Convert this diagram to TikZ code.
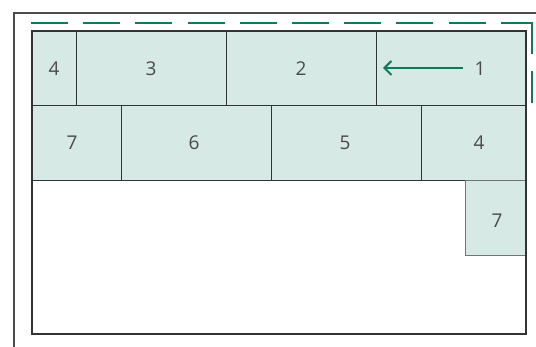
\documentclass[tikz,border=0pt]{standalone}
\usepackage{fontspec}
\setmainfont{Open Sans}
\usetikzlibrary{arrows.meta}
\definecolor{cellfill}{HTML}{D6E9E4}
\definecolor{dgreen}{HTML}{0E7A5A}
\definecolor{txt}{HTML}{4A4A4A}
\begin{document}
\begin{tikzpicture}[x=1pt,y=-1pt,
  cell/.style={draw=black!80,line width=0.9pt,fill=cellfill},
  lbl/.style={font=\fontsize{19}{19}\selectfont,text=txt,inner sep=0pt},
  frameline/.style={draw=black!70,line width=2pt},
  boxline/.style={draw=black!80,line width=2pt},
  dashline/.style={draw=dgreen,line width=2.2pt,dash pattern=on 37pt off 15.2pt},
  vdashline/.style={draw=dgreen,line width=2.2pt,dash pattern=on 32pt off 17pt},
  arrowline/.style={draw=dgreen,line width=2pt,-{Straight Barb[length=7pt,width=14pt,line width=2pt]}}]
\useasboundingbox (0,0) rectangle (536,347);
% outer frame
\draw[frameline] (14,347) -- (14,13) -- (536,13);
% dashed path
\coordinate (dstart) at (31,23);
\coordinate (dcorner) at (533,23);
\coordinate (dend) at (532,107);
\draw[dashline] (dstart) -- (dcorner);
\draw[vdashline] (532,22) -- (dend);
% row 1
\draw[cell] (32,31) rectangle (76,105);
\draw[cell] (76,31) rectangle (226,105);
\draw[cell] (226,31) rectangle (376,105);
\draw[cell] (376,31) rectangle (526,105);
% row 2
\draw[cell] (32,105) rectangle (121,180);
\draw[cell] (121,105) rectangle (271,180);
\draw[cell] (271,105) rectangle (421,180);
\draw[cell] (421,105) rectangle (526,180);
% row 3
\draw[cell,draw=black!55] (465,180) rectangle (526,255);
% inner box
\draw[boxline] (32,31) rectangle (526,334);
% labels
\node[lbl] (n4a) at (54,69) {4};
\node[lbl] (n3) at (151,69) {3};
\node[lbl] (n2) at (301,69) {2};
\node[lbl] (n1) at (480,69) {1};
\node[lbl] (n7a) at (72,143) {7};
\node[lbl] (n6) at (194,143) {6};
\node[lbl] (n5) at (345,143) {5};
\node[lbl] (n4b) at (479,143) {4};
\node[lbl] (n7b) at (497,221) {7};
% arrow
\coordinate (atail) at (463,68);
\coordinate (ahead) at (383,68);
\draw[arrowline] (atail) -- (ahead);
\end{tikzpicture}
\end{document}
